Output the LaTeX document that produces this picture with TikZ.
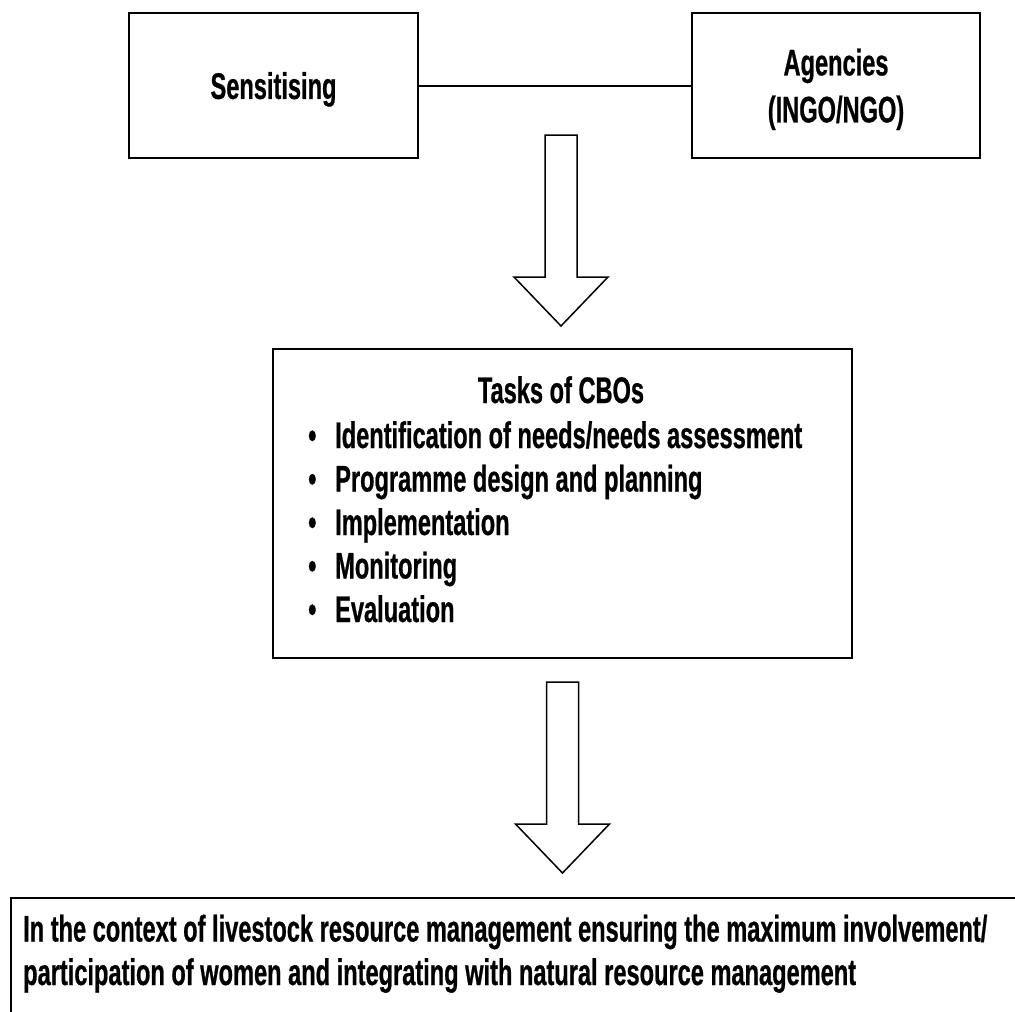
\documentclass[tikz,border=0pt]{standalone}
\usepackage{fontspec}
\setmainfont{Liberation Sans}[FakeStretch=0.638,BoldFeatures={FakeBold=0.6}]
\tikzset{
  box/.style={draw,line width=2pt,inner sep=0pt},
  lbl/.style={font=\bfseries\fontsize{37}{43.5}\selectfont,inner sep=0pt},
  hollow/.style={draw,line width=1.5pt,fill=white,line join=miter}
}
% hollow block arrow, #1 = top centre of the shaft
\newcommand{\hollowarrow}[1]{\draw[hollow] (#1) ++(-16,0) -- ++(0,142) -- ++(-31,0) -- ++(47,49) -- ++(47,-49) -- ++(-31,0) -- ++(0,-142) -- cycle;}
\begin{document}
\begin{tikzpicture}[x=1pt,y=-1pt]
  \useasboundingbox[fill=white] (0,0) rectangle (1015,1012);
  \clip (0,0) rectangle (1015,1012);
  \node[box,lbl,text depth=0pt,minimum width=289pt,minimum height=145pt] (sens) at (273.5,85.5) {Sensitising};
  \node[box,lbl,text depth=0pt,align=center,font=\bfseries\fontsize{37}{47}\selectfont,minimum width=288pt,minimum height=145pt] (agen) at (836,85.5) {Agencies\\(INGO/NGO)};
  \draw[line width=2pt] (sens.east) -- (agen.west);
  \coordinate (arrA) at (561,135);
  \hollowarrow{arrA}
  \node[box,minimum width=579pt,minimum height=309pt] (tasks) at (562.5,503.5) {};
  \node[lbl,anchor=base] (title) at (561,403) {Tasks of CBOs};
  \node[lbl,anchor=base west,align=left] (items) at (308,622) {%
    \makebox[27pt][l]{\textbullet}Identification of needs/needs assessment\\
    \makebox[27pt][l]{\textbullet}Programme design and planning\\
    \makebox[27pt][l]{\textbullet}Implementation\\
    \makebox[27pt][l]{\textbullet}Monitoring\\
    \makebox[27pt][l]{\textbullet}Evaluation};
  \coordinate (arrB) at (562.5,682);
  \hollowarrow{arrB}
  \node[box,anchor=north west,minimum width=1040pt,minimum height=150pt] (goal) at (10,897) {};
  \node[lbl,anchor=base west,align=left] (goaltxt) at (23,985) {%
    In the context of livestock resource management ensuring the maximum involvement/\\
    participation of women and integrating with natural resource management};
\end{tikzpicture}
\end{document}
